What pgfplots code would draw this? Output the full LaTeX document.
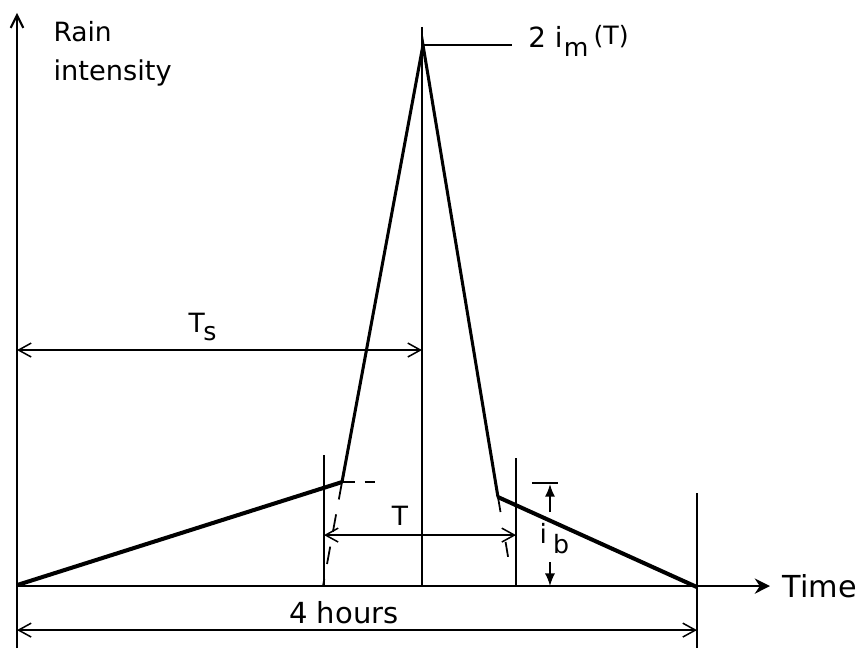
\documentclass[border=0pt]{standalone}
\usepackage{pgfplots}
\pgfplotsset{compat=1.18}
\usepackage{fontspec}
\setmainfont{DejaVu Sans}
\usetikzlibrary{arrows.meta}
\begin{document}
\begin{tikzpicture}
\begin{axis}[
  scale only axis, width=12cm, height=9.0223cm,
  xmin=0, xmax=862, ymin=0, ymax=648, y dir=reverse,
  hide axis, clip=false,
  every axis plot/.append style={black, mark=none},
]
% axes
\addplot[line width=0.8pt, -{Straight Barb[length=5pt,width=5pt]}] coordinates {(17,648) (17,13)};
\addplot[line width=0.9pt, -{Stealth[length=6pt,width=6pt]}] coordinates {(17,586) (770,586)};
% hyetograph
\addplot[line width=1.6pt] coordinates {(17,585) (342,482)};
\addplot[line width=1.2pt] coordinates {(342,482) (423,45) (498,497)};
\addplot[line width=1.6pt] coordinates {(498,497) (697,587)};
% dashed extensions
\addplot[line width=0.7pt, dash pattern=on 5pt off 4pt] coordinates {(342,482) (375,482)};
\addplot[line width=0.7pt, dash pattern=on 7pt off 6pt] coordinates {(342,482) (323,586)};
\addplot[line width=0.7pt, dash pattern=on 6pt off 12pt] coordinates {(498,497) (513,586)};
% vertical lines
\addplot[line width=0.6pt] coordinates {(422,27) (422,586)};
\addplot[line width=0.6pt] coordinates {(324,455) (324,586)};
\addplot[line width=0.6pt] coordinates {(516,458) (516,586)};
\addplot[line width=0.7pt] coordinates {(697,493) (697,648)};
% leader
\addplot[line width=0.6pt] coordinates {(423,45) (512,45)};
% dimension arrows
\addplot[line width=0.6pt, {Straight Barb[length=5pt,width=5.5pt]}-{Straight Barb[length=5pt,width=5.5pt]}] coordinates {(17,350) (422,350)};
\addplot[line width=0.6pt, {Straight Barb[length=5pt,width=5.5pt]}-{Straight Barb[length=5pt,width=5.5pt]}] coordinates {(324,535) (516,535)};
\addplot[line width=0.6pt, {Straight Barb[length=5pt,width=5.5pt]}-{Straight Barb[length=5pt,width=5.5pt]}] coordinates {(17,630) (697,630)};
% i_b marker
\addplot[line width=0.8pt] coordinates {(532,483) (558,483)};
\addplot[line width=0.7pt, -{Latex[length=5pt,width=4pt]}] coordinates {(550,512) (550,484)};
\addplot[line width=0.7pt, -{Latex[length=5pt,width=4pt]}] coordinates {(550,562) (550,586)};
% labels
\node[anchor=base west, inner sep=0, font=\fontsize{10.5}{12}\selectfont] at (axis cs:53,42) {Rain};
\node[anchor=base west, inner sep=0, font=\fontsize{10.8}{12}\selectfont] at (axis cs:53,80) {intensity};
\node[anchor=base west, inner sep=0, font=\fontsize{10.5}{12}\selectfont] at (axis cs:188,332) {T\kern-0.5pt\raisebox{-3.5pt}{\fontsize{10}{12}\selectfont s}};
\node[anchor=base, inner sep=0, font=\fontsize{10.5}{12}\selectfont] at (axis cs:400,525) {T};
\node[anchor=base west, inner sep=0, font=\fontsize{10.5}{12}\selectfont] at (axis cs:539,543) {i\kern2.5pt\raisebox{-4pt}{\fontsize{10}{12}\selectfont b}};
\node[anchor=base west, inner sep=0, font=\fontsize{11}{12}\selectfont] at (axis cs:528,48) {2 i\kern0.5pt\raisebox{-3.5pt}{\fontsize{10}{12}\selectfont m}\kern2pt\raisebox{1.5pt}{\fontsize{10}{11}\selectfont(T)}};
\node[anchor=base, inner sep=0, font=\fontsize{11.5}{12}\selectfont] at (axis cs:344,623) {4 hours};
\node[anchor=base west, inner sep=0, font=\fontsize{12}{12}\selectfont] at (axis cs:782,597) {Time};
\end{axis}
\pgfresetboundingbox
\path (0,0) rectangle (12cm,9.0223cm);
\end{tikzpicture}
\end{document}
